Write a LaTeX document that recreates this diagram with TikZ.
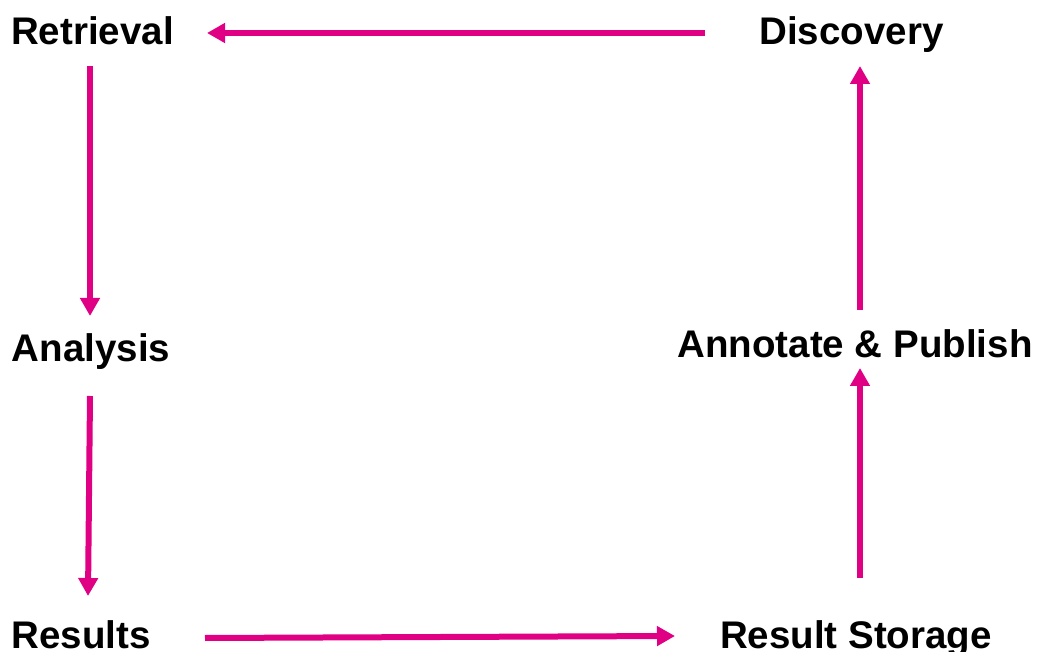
\documentclass[tikz,border=0pt]{standalone}
\usepackage{fontspec}
\setmainfont{Liberation Sans}
\usetikzlibrary{arrows.meta}
\definecolor{flow}{RGB}{224,0,132}
\tikzset{
  stage/.style={anchor=base, inner sep=0pt, outer sep=0pt,
    font=\fontsize{38.5}{46}\selectfont\bfseries, text=black},
  flowarrow/.style={draw=flow, line width=6pt,
    -{Triangle[length=18pt,width=19pt]}}
}
\begin{document}
\begin{tikzpicture}[x=1pt,y=-1pt]
  \useasboundingbox (0,0) rectangle (1037,652);
  % stages of the cycle
  \node[stage] (ret)   at (92.5,45)  {Retrieval};
  \node[stage] (disc)  at (851.5,45) {Discovery};
  \node[stage] (ana)   at (91,362)   {Analysis};
  \node[stage] (ann)   at (855,358)  {Annotate \& Publish};
  \node[stage] (res)   at (81,648)   {Results};
  \node[stage] (store) at (856,648)  {Result Storage};
  % flow between stages
  \draw[flowarrow] ([shift={(-146.5,-12)}]disc.base) -- ([shift={(114.5,-12)}]ret.base);
  \draw[flowarrow] ([shift={(-2.5,21)}]ret.base) -- ([shift={(-1,-46)}]ana.base);
  \draw[flowarrow] ([shift={(-1,34)}]ana.base) -- ([shift={(7,-52)}]res.base);
  \draw[flowarrow] ([shift={(124,-10)}]res.base) -- ([shift={(-181,-12)}]store.base);
  \draw[flowarrow] ([shift={(4,-70)}]store.base) -- ([shift={(5,10)}]ann.base);
  \draw[flowarrow] ([shift={(5,-48)}]ann.base) -- ([shift={(8.5,21)}]disc.base);
\end{tikzpicture}
\end{document}
